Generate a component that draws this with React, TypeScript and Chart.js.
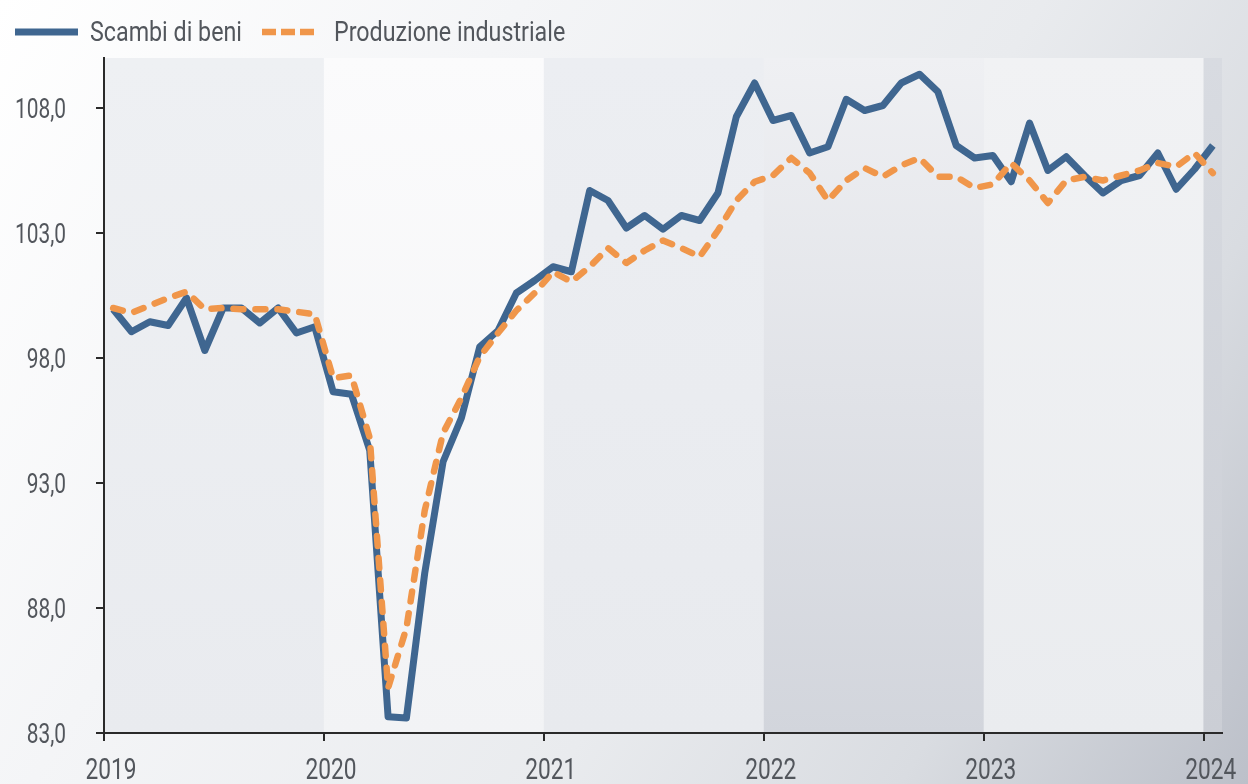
import React, { useEffect, useRef } from "react";
import { Chart, registerables } from "chart.js";

Chart.register(...registerables);

const yearLabels = ["2019", "2020", "2021", "2022", "2023", "2024"];
const yTickValues = [83, 88, 93, 98, 103, 108];

// monthly values Jan 2019 .. Jan 2024
const scambiDiBeni = [
  99.95, 99.05, 99.45, 99.3, 100.4, 98.3, 100.0, 100.0, 99.4, 100.0, 99.0, 99.25,
  96.65, 96.55, 94.3, 83.65, 83.6, 89.4, 93.85, 95.6, 98.45, 99.1, 100.6, 101.1,
  101.65, 101.45, 104.7, 104.3, 103.2, 103.7, 103.15, 103.7, 103.5, 104.6, 107.65, 109.0,
  107.5, 107.7, 106.2, 106.45, 108.35, 107.9, 108.1, 109.0, 109.35, 108.65, 106.5, 106.0,
  106.1, 105.05, 107.4, 105.5, 106.05, 105.3, 104.6, 105.1, 105.3, 106.2, 104.75, 105.55,
  106.5,
];

const produzioneIndustriale = [
  100.0, 99.8, 100.1, 100.4, 100.65, 99.95, 100.0, 99.95, 99.95, 99.95, 99.85, 99.75,
  97.2, 97.3, 94.8, 84.8, 87.2, 91.9, 95.0, 96.4, 98.05, 99.0, 99.9, 100.6,
  101.45, 101.05, 101.65, 102.4, 101.8, 102.3, 102.7, 102.4, 102.05, 103.1, 104.3, 105.05,
  105.3, 106.0, 105.4, 104.3, 105.1, 105.6, 105.25, 105.7, 106.0, 105.25, 105.25, 104.8,
  104.95, 105.8, 105.1, 104.2, 105.1, 105.25, 105.1, 105.3, 105.5, 105.8, 105.65, 106.2,
  105.4,
];

const seriesNames = ["Scambi di beni", "Produzione industriale"];

const FONT = "Roboto, 'Noto Sans', 'DejaVu Sans', sans-serif";
const TEXT = "#52565c";
const BLUE = "#3f6690";
const ORANGE = "#f0964a";

const toPoints = (arr: number[]) => arr.map((v, i) => ({ x: i + 0.5, y: v }));
const fmtY = (v: number) => v.toFixed(1).replace(".", ",");

// draw condensed text: squeeze horizontally so that a sample string gets a given width
function drawCondensed(
  ctx: CanvasRenderingContext2D,
  text: string,
  x: number,
  y: number,
  size: number,
  squeeze: number,
  align: "left" | "right" | "center"
) {
  ctx.save();
  ctx.font = `${size}px ${FONT}`;
  ctx.fillStyle = TEXT;
  ctx.textBaseline = "alphabetic";
  const w = ctx.measureText(text).width * squeeze;
  let left = x;
  if (align === "right") left = x - w;
  if (align === "center") left = x - w / 2;
  ctx.translate(left, y);
  ctx.scale(squeeze, 1);
  ctx.textAlign = "left";
  ctx.fillText(text, 0, 0);
  ctx.restore();
}

function squeezeFor(ctx: CanvasRenderingContext2D, sample: string, size: number, target: number) {
  ctx.save();
  ctx.font = `${size}px ${FONT}`;
  const w = ctx.measureText(sample).width;
  ctx.restore();
  return w > 0 ? Math.min(1, target / w) : 1;
}

const backgroundPlugin = {
  id: "bgBands",
  beforeDraw(chart: any) {
    const { ctx, width, height, chartArea, scales } = chart;
    ctx.save();
    const g = ctx.createLinearGradient(0, 0, width, height);
    g.addColorStop(0, "#ffffff");
    g.addColorStop(0.3, "#f4f5f7");
    g.addColorStop(0.6, "#e9ebee");
    g.addColorStop(0.8, "#d9dce1");
    g.addColorStop(1, "#bcc0c9");
    ctx.fillStyle = g;
    ctx.fillRect(0, 0, width, height);
    const xs = scales.x;
    const bandColors: [string, string][] = [
      ["#eef0f3", "#e9ebef"],
      ["#fbfbfc", "#f2f3f5"],
      ["#eceef2", "#e8eaee"],
      ["#eff0f3", "#d2d5dc"],
      ["#f1f2f4", "#eaecef"],
      ["#d8dbe1", "#cbced5"],
    ];
    for (let k = 0; k < yearLabels.length; k++) {
      const x0 = xs.getPixelForValue(k * 12);
      const x1 = Math.min(xs.getPixelForValue((k + 1) * 12), chartArea.right);
      const vg = ctx.createLinearGradient(0, chartArea.top, 0, chartArea.bottom);
      vg.addColorStop(0, bandColors[k][0]);
      vg.addColorStop(1, bandColors[k][1]);
      ctx.fillStyle = vg;
      ctx.fillRect(x0, chartArea.top, x1 - x0, chartArea.bottom - chartArea.top);
    }
    ctx.restore();
  },
  afterDraw(chart: any) {
    const { ctx, scales } = chart;
    // tick labels
    const ySize = 28;
    const ySq = squeezeFor(ctx, "108,0", ySize, 51);
    scales.y.ticks.forEach((t: any) => {
      const py = scales.y.getPixelForValue(t.value);
      drawCondensed(ctx, fmtY(t.value), 66, py + 10, ySize, ySq, "right");
    });
    const xSize = 29;
    const xSq = squeezeFor(ctx, "2019", xSize, 51);
    scales.x.ticks.forEach((t: any) => {
      const px = scales.x.getPixelForValue(t.value);
      drawCondensed(ctx, yearLabels[Math.round(t.value / 12)], px + 7, 779, xSize, xSq, "center");
    });
    // legend
    ctx.save();
    ctx.lineWidth = 7;
    ctx.strokeStyle = BLUE;
    ctx.beginPath();
    ctx.moveTo(15, 32);
    ctx.lineTo(78, 32);
    ctx.stroke();
    ctx.strokeStyle = ORANGE;
    ctx.lineWidth = 6.5;
    ctx.setLineDash([14, 5]);
    ctx.beginPath();
    ctx.moveTo(262, 32);
    ctx.lineTo(314, 32);
    ctx.stroke();
    ctx.restore();
    const lSize = 28;
    const lSq = squeezeFor(ctx, seriesNames[0], lSize, 152);
    drawCondensed(ctx, seriesNames[0], 90, 41, lSize, lSq, "left");
    drawCondensed(ctx, seriesNames[1], 334, 41, lSize, lSq, "left");
  },
};

export default function App() {
  const ref = useRef<HTMLCanvasElement>(null);
  useEffect(() => {
    document.body.style.margin = "0";
    const canvas = ref.current!;
    const chart = new Chart(canvas, {
      type: "line",
      data: {
        datasets: [
          {
            label: seriesNames[0],
            data: toPoints(scambiDiBeni),
            borderColor: BLUE,
            borderWidth: 7,
            pointRadius: 0,
            tension: 0,
            borderJoinStyle: "round",
            order: 2,
          },
          {
            label: seriesNames[1],
            data: toPoints(produzioneIndustriale),
            borderColor: ORANGE,
            borderWidth: 6.5,
            borderDash: [10, 12],
            borderCapStyle: "round",
            borderJoinStyle: "round",
            pointRadius: 0,
            tension: 0,
            order: 1,
          },
        ],
      },
      options: {
        animation: false,
        responsive: false,
        devicePixelRatio: 1,
        layout: { padding: { top: 58, right: 26, left: 0, bottom: 0 } },
        plugins: { legend: { display: false }, tooltip: { enabled: false } },
        scales: {
          x: {
            type: "linear",
            min: 0,
            max: 61,
            afterBuildTicks: (s: any) => {
              s.ticks = yearLabels.map((_, i) => ({ value: i * 12 }));
            },
            afterFit: (s: any) => {
              s.height = 51;
            },
            ticks: { display: false, autoSkip: false, maxRotation: 0 },
            grid: { drawOnChartArea: false, drawTicks: true, tickLength: 8, color: "#2a2a2a", lineWidth: 2 },
            border: { display: true, color: "#2a2a2a", width: 2 },
          },
          y: {
            type: "linear",
            min: 83,
            max: 110,
            afterBuildTicks: (s: any) => {
              s.ticks = yTickValues.map((v) => ({ value: v }));
            },
            afterFit: (s: any) => {
              s.width = 104;
            },
            ticks: { display: false },
            grid: { drawOnChartArea: false, drawTicks: true, tickLength: 8, color: "#2a2a2a", lineWidth: 2 },
            border: { display: true, color: "#2a2a2a", width: 2 },
          },
        },
      },
      plugins: [backgroundPlugin],
    });
    return () => chart.destroy();
  }, []);
  return (
    <div style={{ width: 1248, height: 784 }}>
      <canvas ref={ref} width={1248} height={784} style={{ display: "block" }} />
    </div>
  );
}
